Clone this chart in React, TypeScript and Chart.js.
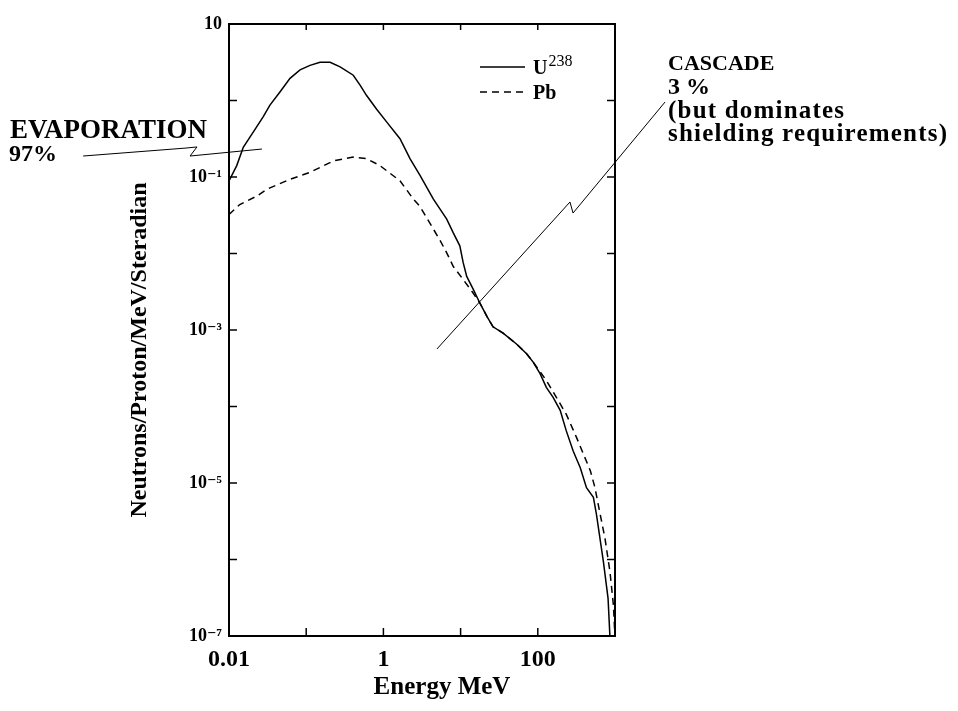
import React, { useEffect, useRef } from "react";
import { Chart, registerables } from "chart.js";

Chart.register(...registerables);

// ---- data ----
const U238_ENERGY = [
  0.01, 0.0126, 0.0153, 0.0207, 0.0278, 0.0339, 0.0457, 0.0617, 0.0832, 0.112,
  0.151, 0.204, 0.275, 0.407, 0.501, 0.603, 0.813, 1.1, 1.64, 2.21, 2.98, 4.44,
  6.61, 8.04, 9.77, 10.8, 12.0, 14.6, 17.8, 21.9, 26.3, 35.5, 52.5, 71.6, 87.1,
  107, 129, 158, 195, 234, 288, 355, 427, 525, 575, 708, 813, 861,
];
const U238_FLUX = [
  0.089, 0.141, 0.245, 0.389, 0.617, 0.871, 1.29, 1.95, 2.51, 2.88, 3.16, 3.16,
  2.75, 2.14, 1.58, 1.17, 0.776, 0.525, 0.316, 0.174, 0.105, 0.0513, 0.0282,
  0.0186, 0.0126, 0.00759, 0.00501, 0.00339, 0.00224, 0.00151, 0.0011, 0.000912,
  0.000661, 0.00049, 0.00038, 0.000269, 0.000178, 0.000132, 8.9e-5, 4.8e-5,
  2.6e-5, 1.58e-5, 8.7e-6, 6.5e-6, 3.9e-6, 9.3e-7, 3.1e-7, 9.5e-8,
];
const PB_ENERGY = [
  0.01, 0.0138, 0.0229, 0.0309, 0.0617, 0.112, 0.224, 0.407, 0.603, 0.902, 1.64,
  2.45, 2.95, 3.98, 5.37, 6.61, 8.04, 10.8, 14.6, 17.8, 21.9, 26.3, 35.5, 52.5,
  71.6, 87.1, 129, 174, 234, 316, 389, 479, 550, 631, 741, 861, 955, 1000,
];
const PB_FLUX = [
  0.0324, 0.0437, 0.0562, 0.0692, 0.0933, 0.115, 0.162, 0.182, 0.174, 0.141,
  0.0891, 0.0513, 0.0417, 0.0251, 0.0151, 0.0102, 0.00676, 0.00457, 0.00302,
  0.00224, 0.00151, 0.0011, 0.000912, 0.000661, 0.00049, 0.00038, 0.000219,
  0.000132, 7.9e-5, 3.98e-5, 2.4e-5, 1.45e-5, 8.7e-6, 4.27e-6, 1.9e-6, 6.9e-7,
  2.5e-7, 9.5e-8,
];

const X_TICKS = [0.01, 0.1, 1, 10, 100, 1000];
const X_TICK_LABELS = ["0.01", "", "1", "", "100", ""];
const Y_TICKS = [1e-7, 1e-6, 1e-5, 1e-4, 1e-3, 1e-2, 1e-1, 1, 10];
const Y_TICK_LABELS = ["10⁻⁷", "", "10⁻⁵", "", "10⁻³", "", "10⁻¹", "", "10"];

// annotation leader lines in data space [energy, value]
const EVAP_LEADER: [number, number][] = [
  [1.29e-4, 0.188], [0.00277, 0.239], [0.00385, 0.247], [0.00313, 0.188], [0.0267, 0.232],
];
const CASCADE_LEADER: [number, number][] = [
  [4.94, 5.65e-4], [261, 0.0471], [286, 0.0338], [4450, 0.955],
];

const SERIF = '"Liberation Serif", "DejaVu Serif", serif';

const overlay = {
  id: "overlay",
  afterDraw(chart: any) {
    const { ctx, chartArea, scales } = chart;
    const { left, top, right, bottom } = chartArea;
    const x = scales.x;
    const y = scales.y;
    ctx.save();
    ctx.strokeStyle = "#000";
    ctx.fillStyle = "#000";
    // frame
    ctx.lineWidth = 2;
    ctx.strokeRect(left, top, right - left, bottom - top);
    // inward ticks
    ctx.lineWidth = 1.5;
    const seg = (x1: number, y1: number, x2: number, y2: number) => {
      ctx.beginPath();
      ctx.moveTo(x1, y1);
      ctx.lineTo(x2, y2);
      ctx.stroke();
    };
    X_TICKS.forEach((v) => {
      const px = x.getPixelForValue(v);
      seg(px, bottom, px, bottom - 8);
      seg(px, top, px, top + 6);
    });
    Y_TICKS.forEach((v) => {
      const py = y.getPixelForValue(v);
      seg(left, py, left + 8, py);
      seg(right, py, right - 8, py);
    });
    // leader lines
    ctx.lineWidth = 1;
    const poly = (pts: [number, number][]) => {
      ctx.beginPath();
      pts.forEach(([ex, ey], i) => {
        const px = x.getPixelForValue(ex);
        const py = y.getPixelForValue(ey);
        if (i === 0) ctx.moveTo(px, py);
        else ctx.lineTo(px, py);
      });
      ctx.stroke();
    };
    poly(EVAP_LEADER);
    poly(CASCADE_LEADER);

    // legend
    ctx.lineWidth = 1.5;
    ctx.setLineDash([]);
    seg(480, 67, 525, 67);
    ctx.setLineDash([7, 5]);
    seg(480, 92, 525, 92);
    ctx.setLineDash([]);
    ctx.textBaseline = "alphabetic";
    ctx.textAlign = "left";
    ctx.font = `bold 20px ${SERIF}`;
    ctx.fillText("U", 533, 74);
    const uw = ctx.measureText("U").width;
    ctx.font = `16px ${SERIF}`;
    ctx.fillText("238", 533 + uw + 1, 66);
    ctx.font = `bold 20px ${SERIF}`;
    ctx.fillText("Pb", 533, 99);

    // annotation texts
    ctx.font = `bold 27px ${SERIF}`;
    ctx.fillText("EVAPORATION", 10, 138);
    ctx.font = `bold 24px ${SERIF}`;
    ctx.fillText("97%", 9, 161);
    ctx.font = `bold 22px ${SERIF}`;
    ctx.fillText("CASCADE", 668, 70);
    ctx.font = `bold 24px ${SERIF}`;
    ctx.fillText("3 %", 668, 94);
    ctx.font = `bold 25px ${SERIF}`;
    (ctx as any).letterSpacing = "1.2px";
    ctx.fillText("(but dominates", 668, 118);
    ctx.fillText("shielding requirements)", 668, 141);
    (ctx as any).letterSpacing = "0px";

    // axis titles
    ctx.textAlign = "center";
    ctx.font = `bold 25px ${SERIF}`;
    ctx.fillText("Energy MeV", 442, 694);
    ctx.translate(146, 350);
    ctx.rotate(-Math.PI / 2);
    ctx.font = `bold 24px ${SERIF}`;
    ctx.fillText("Neutrons/Proton/MeV/Steradian", 0, 0);
    ctx.restore();
  },
};

export default function App() {
  const ref = useRef<HTMLCanvasElement | null>(null);
  useEffect(() => {
    document.body.style.margin = "0";
    if (!ref.current) return;
    const chart = new Chart(ref.current, {
      type: "line",
      data: {
        datasets: [
          {
            label: "U238",
            data: U238_ENERGY.map((e, i) => ({ x: e, y: U238_FLUX[i] })),
            borderColor: "#000",
            borderWidth: 1.5,
            pointRadius: 0,
            tension: 0,
          },
          {
            label: "Pb",
            data: PB_ENERGY.map((e, i) => ({ x: e, y: PB_FLUX[i] })),
            borderColor: "#000",
            borderWidth: 1.5,
            borderDash: [7, 5],
            pointRadius: 0,
            tension: 0,
          },
        ],
      },
      options: {
        animation: false,
        responsive: false,
        layout: { padding: { left: 169, top: 24, right: 343, bottom: 35 } },
        plugins: { legend: { display: false }, tooltip: { enabled: false } },
        scales: {
          x: {
            type: "logarithmic",
            min: 0.01,
            max: 1000,
            grid: { display: false, drawTicks: false },
            border: { display: false },
            afterBuildTicks: (axis: any) => {
              axis.ticks = X_TICKS.map((v) => ({ value: v }));
            },
            afterFit: (axis: any) => {
              axis.height = 40;
            },
            ticks: {
              autoSkip: false,
              maxRotation: 0,
              padding: 9,
              color: "#000",
              font: { family: SERIF, size: 24, weight: "bold" },
              callback: (v: any) => {
                const i = X_TICKS.findIndex((t) => Math.abs(t - v) / t < 1e-6);
                return i >= 0 ? X_TICK_LABELS[i] : "";
              },
            },
          },
          y: {
            type: "logarithmic",
            min: 1e-7,
            max: 10,
            grid: { display: false, drawTicks: false },
            border: { display: false },
            afterBuildTicks: (axis: any) => {
              axis.ticks = Y_TICKS.map((v) => ({ value: v }));
            },
            afterFit: (axis: any) => {
              axis.width = 60;
            },
            ticks: {
              autoSkip: false,
              padding: 7,
              color: "#000",
              font: { family: SERIF, size: 18, weight: "bold" },
              callback: (v: any) => {
                const i = Y_TICKS.findIndex((t) => Math.abs(t - v) / t < 1e-6);
                return i >= 0 ? Y_TICK_LABELS[i] : "";
              },
            },
          },
        },
      },
      plugins: [overlay],
    });
    return () => chart.destroy();
  }, []);
  return <canvas ref={ref} width={958} height={711} style={{ display: "block" }} />;
}
